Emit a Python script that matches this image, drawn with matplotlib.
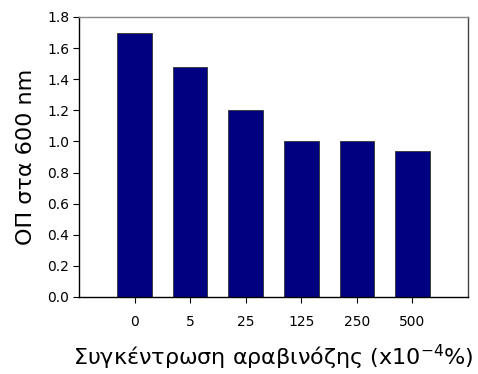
import numpy as np
import matplotlib.pyplot as plt

# concentrations (x10^-4 %) and optical density at 600 nm
categories = ["0", "5", "25", "125", "250", "500"]
od600 = [1.70, 1.48, 1.20, 1.00, 1.00, 0.94]

fig = plt.figure(figsize=(4.78, 3.74), dpi=100)
ax = fig.add_axes([79/478, 77/374, 389/478, 280/374])

x = np.arange(len(categories))
ax.bar(x, od600, width=0.62, color="#000080", edgecolor="#333333", linewidth=0.6)

ax.set_xlim(-1, len(categories))
ax.set_ylim(0, 1.8)
ax.set_yticks(np.arange(0, 1.81, 0.2))
ax.set_yticklabels([f"{v:.1f}" for v in np.arange(0, 1.81, 0.2)], fontsize=10)
ax.set_xticks(x)
ax.set_xticklabels(categories, fontsize=10)
ax.tick_params(axis="x", length=4, pad=9)
ax.tick_params(axis="y", length=4, pad=3)

ax.spines["top"].set_color("#888888")
ax.spines["right"].set_color("#444444")
for s in ax.spines.values():
    s.set_linewidth(1.0)

ax.set_ylabel("ΟΠ στα 600 nm", fontsize=16, labelpad=8)
ax.set_xlabel("Συγκέντρωση αραβινόζης (x10$^{-4}$%)", fontsize=16, labelpad=10)

fig.savefig("out.png", dpi=100)
